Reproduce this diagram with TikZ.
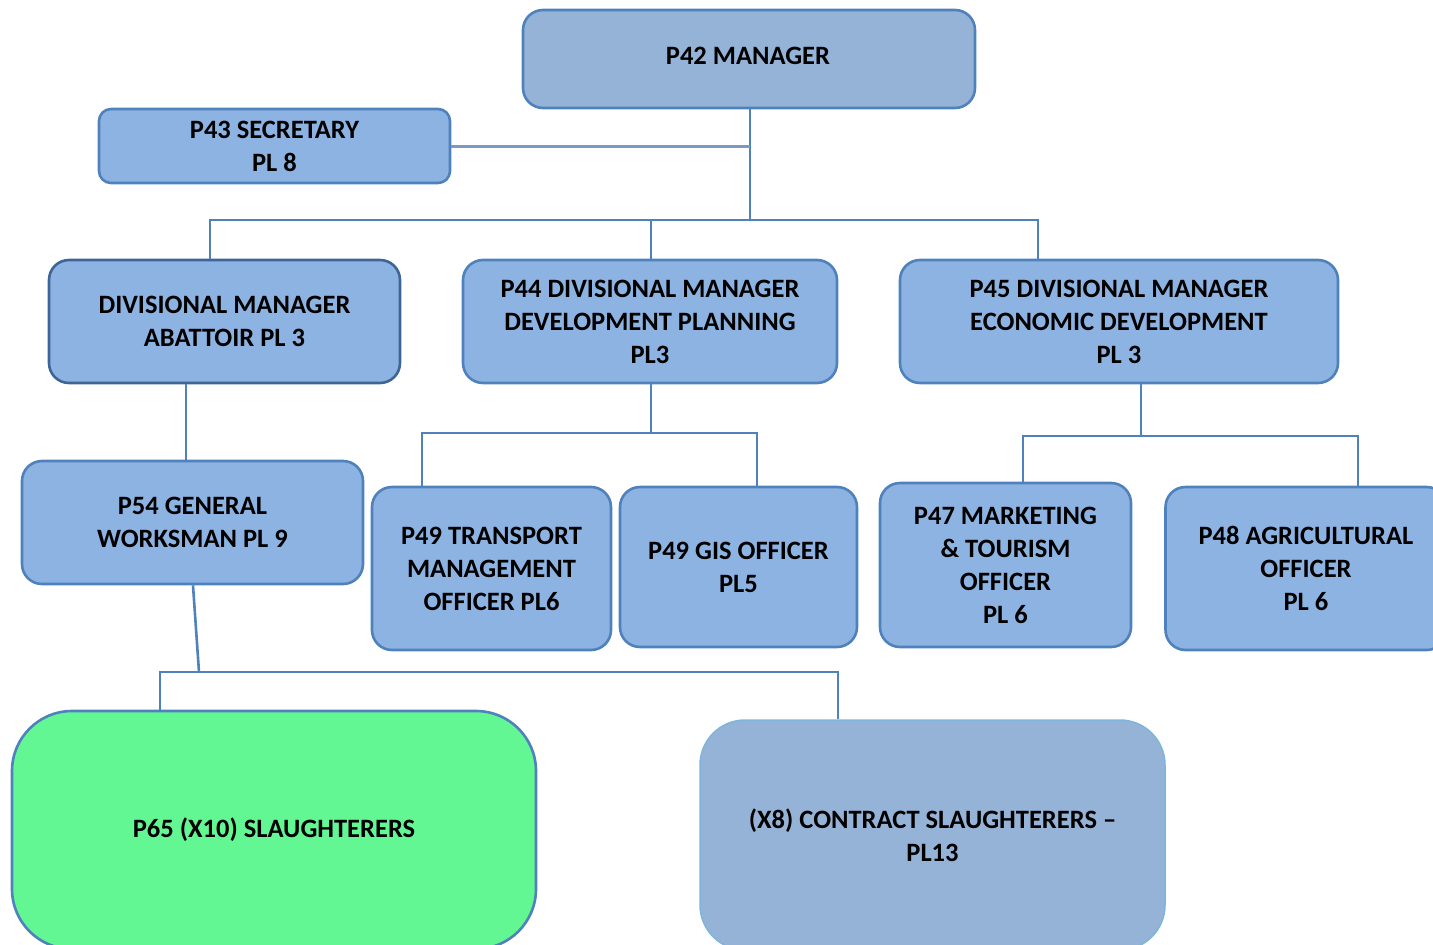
\documentclass[tikz,border=0pt]{standalone}
\usepackage{fontspec}
\setmainfont{Carlito}
\definecolor{boxfill}{HTML}{8DB3E2}
\definecolor{boxfilltwo}{HTML}{95B3D7}
\definecolor{boxline}{HTML}{4F81BD}
\definecolor{darkline}{HTML}{3D6598}
\definecolor{lightline}{HTML}{7DB5DC}
\definecolor{greenfill}{HTML}{62F793}
\definecolor{secline}{HTML}{7C99C4}
\tikzset{
  box/.style={draw=boxline, line width=2.6pt, fill=boxfill, rounded corners=20pt,
    align=center, inner sep=0pt, text=black,
    font=\fontsize{26.5}{33}\selectfont\bfseries},
  conn/.style={draw=boxline, line width=2.6pt}
}
\begin{document}
\begin{tikzpicture}[x=1pt,y=-1pt]
\useasboundingbox (0,0) rectangle (1433,945);
% boxes
\node[box, fill=boxfilltwo, minimum width=452pt, minimum height=98pt] (mgr) at (749,59) {};
\node[font=\fontsize{26.5}{33}\selectfont\bfseries, inner sep=0pt] (mgrt) at (748,56) {P42 MANAGER};
\node[box, rounded corners=12pt, minimum width=351pt, minimum height=74pt] (sec) at (274.5,146) {P43 SECRETARY\\PL 8};
\node[box, draw=darkline, minimum width=351pt, minimum height=123pt] (abt) at (224.5,321.5) {DIVISIONAL MANAGER\\ABATTOIR PL 3};
\node[box, minimum width=374pt, minimum height=123pt] (p44) at (650,321.5) {P44 DIVISIONAL MANAGER\\DEVELOPMENT PLANNING\\PL3};
\node[box, minimum width=438pt, minimum height=123pt] (p45) at (1119,321.5) {P45 DIVISIONAL MANAGER\\ECONOMIC DEVELOPMENT\\PL 3};
\node[box, minimum width=341pt, minimum height=123pt] (p54) at (192.5,522.5) {P54 GENERAL\\WORKSMAN PL 9};
\node[box, minimum width=239pt, minimum height=163pt] (trn) at (491.5,568.5) {P49 TRANSPORT\\MANAGEMENT\\OFFICER PL6};
\node[box, minimum width=237pt, minimum height=160pt] (gis) at (738.5,567) {P49 GIS OFFICER\\PL5};
\node[box, minimum width=251pt, minimum height=164pt] (p47) at (1005.5,565) {P47 MARKETING\\\& TOURISM\\OFFICER\\PL 6};
\node[box, minimum width=281pt, minimum height=163pt] (p48) at (1306,568.5) {P48 AGRICULTURAL\\OFFICER\\PL 6};
\node[box, fill=greenfill, rounded corners=60pt, minimum width=524pt, minimum height=238pt] (p65) at (274,830) {P65 (X10) SLAUGHTERERS};
\node[box, fill=boxfilltwo, draw=lightline, line width=1.5pt, rounded corners=45pt, minimum width=465pt, minimum height=230pt] (ctr) at (932.5,835) {(X8) CONTRACT SLAUGHTERERS --\\PL13};
% junction coordinates
\coordinate (j1) at (750,220);
\coordinate (bl) at (210,220);
\coordinate (br) at (1038,220);
\coordinate (a54) at (186,0);
\coordinate (t1) at (651,433);
\coordinate (tl) at (422,433);
\coordinate (tr) at (757,433);
\coordinate (u1) at (1141,436);
\coordinate (ul) at (1023,436);
\coordinate (ur) at (1358,436);
\coordinate (s1) at (193,584);
\coordinate (s2) at (199,672);
\coordinate (sl) at (160,672);
\coordinate (sr) at (838,672);
% connectors
\draw[conn] (mgr.south -| j1) -- (j1);
\draw[draw=secline, line width=3pt] (sec.east) -- (sec.east -| j1);
\draw[conn] (bl |- abt.north) -- (bl) -- (br) -- (br |- p45.north);
\draw[conn] (p44.north -| t1) -- (t1 |- bl);
\draw[conn] (a54 |- abt.south) -- (a54 |- p54.north);
\draw[conn] (p44.south -| t1) -- (t1);
\draw[conn] (tl |- trn.north) -- (tl) -- (tr) -- (tr |- gis.north);
\draw[conn] (p45.south -| u1) -- (u1);
\draw[conn] (ul |- p47.north) -- (ul) -- (ur) -- (ur |- p48.north);
\draw[conn] (s1 |- p54.south) -- (s2);
\draw[conn] (sl |- p65.north) -- (sl) -- (sr) -- (sr |- ctr.north);
\end{tikzpicture}
\end{document}
